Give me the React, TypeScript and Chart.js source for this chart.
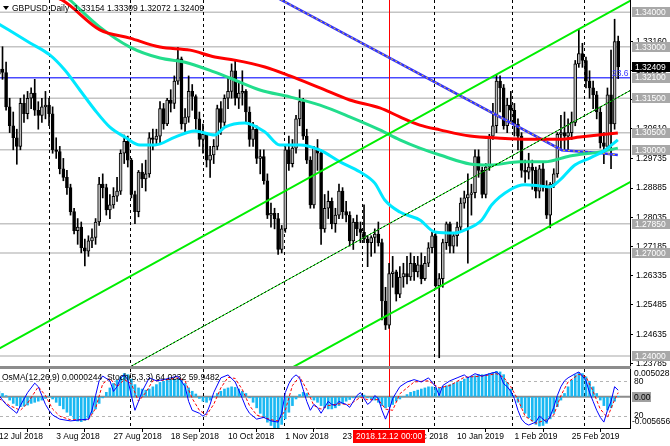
import React, { useEffect, useRef } from "react";
import { Chart, registerables } from "chart.js";
Chart.register(...registerables);

const FONT = "'Liberation Sans', Arial, sans-serif";
const TOP_H = 366;
const SEP_H = 3;
const BOT_H = 77;
const X_MIN = 0.3;
const X_MAX = 176.3;
const PRICE_MIN = 1.2371;
const PRICE_MAX = 1.34359;

const HEADER = "GBPUSD,Daily  1.33154 1.33309 1.32072 1.32409";
const OSC_HEADER = "OsMA(12,26,9) 0.0000244  Stoch(5,3,3) 64.0232 59.9482";

const OPEN = [
  1.3220, 1.3235, 1.3225, 1.3125, 1.3070, 1.3035, 1.3010, 1.3135, 1.3105, 1.3150,
  1.3165, 1.3115, 1.3100, 1.3125, 1.3130, 1.3105, 1.3000, 1.2995, 1.2945, 1.2920,
  1.2890, 1.2820, 1.2765, 1.2775, 1.2715, 1.2705, 1.2735, 1.2745, 1.2790, 1.2900,
  1.2890, 1.2825, 1.2840, 1.2865, 1.2880, 1.2990, 1.3025, 1.2970, 1.2870, 1.2820,
  1.2935, 1.2915, 1.2930, 1.3035, 1.3030, 1.3040, 1.3120, 1.3075, 1.3145, 1.3135,
  1.3200, 1.3265, 1.3075, 1.3095, 1.3170, 1.3155, 1.3090, 1.3030, 1.3045, 1.2970,
  1.2985, 1.3010, 1.3120, 1.3080, 1.3150, 1.3170, 1.3230, 1.3150, 1.3165, 1.3170,
  1.3110, 1.3030, 1.3060, 1.2975, 1.2980, 1.2910, 1.2810, 1.2815, 1.2800, 1.2710,
  1.2770, 1.3000, 1.2960, 1.3005, 1.3090, 1.3140, 1.3040, 1.2970, 1.2840, 1.3005,
  1.2990, 1.2770, 1.2830, 1.2850, 1.2785, 1.2810, 1.2880, 1.2820, 1.2810, 1.2735,
  1.2790, 1.2770, 1.2760, 1.2740, 1.2730, 1.2745, 1.2755, 1.2730, 1.2560, 1.2490,
  1.2640, 1.2645, 1.2580, 1.2630, 1.2640, 1.2630, 1.2670, 1.2645, 1.2665, 1.2625,
  1.2670, 1.2715, 1.2750, 1.2605, 1.2625, 1.2730, 1.2785, 1.2720, 1.2750, 1.2775,
  1.2845, 1.2860, 1.2870, 1.2875, 1.2980, 1.2940, 1.2870, 1.2950, 1.3040, 1.3070,
  1.3200, 1.3180, 1.3070, 1.3130, 1.3115, 1.3075, 1.3040, 1.2940, 1.2935, 1.2950,
  1.2940, 1.2880, 1.2945, 1.2895, 1.2810, 1.2900, 1.2930, 1.3045, 1.3050, 1.3040,
  1.3050, 1.3080, 1.3250, 1.3280, 1.3260, 1.3200, 1.3180, 1.3160, 1.3110, 1.3020,
  1.3010, 1.3160, 1.3075, 1.33154,
];
const HIGH = [
  1.3262, 1.3300, 1.3255, 1.3150, 1.3110, 1.3060, 1.3150, 1.3160, 1.3170, 1.3180,
  1.3205, 1.3140, 1.3150, 1.3170, 1.3150, 1.3125, 1.3035, 1.3010, 1.2975, 1.2940,
  1.2900, 1.2830, 1.2800, 1.2790, 1.2740, 1.2750, 1.2770, 1.2800, 1.2920, 1.2930,
  1.2900, 1.2870, 1.2890, 1.2920, 1.3000, 1.3043, 1.3040, 1.2975, 1.2880, 1.2940,
  1.2960, 1.2970, 1.3050, 1.3060, 1.3060, 1.3140, 1.3135, 1.3150, 1.3175, 1.3215,
  1.3298, 1.3270, 1.3120, 1.3215, 1.3190, 1.3160, 1.3110, 1.3075, 1.3050, 1.3010,
  1.3030, 1.3130, 1.3140, 1.3160, 1.3210, 1.3250, 1.3260, 1.3200, 1.3230, 1.3175,
  1.3125, 1.3080, 1.3070, 1.3000, 1.3000, 1.2930, 1.2845, 1.2830, 1.2815, 1.2780,
  1.3010, 1.3040, 1.3030, 1.3100, 1.3175, 1.3150, 1.3060, 1.2980, 1.3010, 1.3030,
  1.3000, 1.2870, 1.2880, 1.2860, 1.2830, 1.2900, 1.2890, 1.2850, 1.2820, 1.2800,
  1.2810, 1.2790, 1.2840, 1.2750, 1.2750, 1.2770, 1.2790, 1.2740, 1.2600, 1.2670,
  1.2690, 1.2650, 1.2660, 1.2670, 1.2690, 1.2700, 1.2690, 1.2690, 1.2700, 1.2690,
  1.2730, 1.2760, 1.2760, 1.2640, 1.2740, 1.2790, 1.2790, 1.2760, 1.2790, 1.2860,
  1.2880, 1.2930, 1.2900, 1.3000, 1.3000, 1.2950, 1.2960, 1.3045, 1.3135, 1.3218,
  1.3215, 1.3190, 1.3150, 1.3170, 1.3135, 1.3090, 1.3050, 1.2970, 1.2990, 1.2970,
  1.2950, 1.2955, 1.2965, 1.2910, 1.2905, 1.2945, 1.3050, 1.3100, 1.3110, 1.3090,
  1.3110, 1.3260, 1.3350, 1.3310, 1.3270, 1.3230, 1.3200, 1.3170, 1.3125, 1.3050,
  1.3180, 1.3290, 1.3380, 1.33309,
];
const LOW = [
  1.3190, 1.3205, 1.3115, 1.3050, 1.3000, 1.2958, 1.3000, 1.3080, 1.3090, 1.3120,
  1.3100, 1.3060, 1.3080, 1.3090, 1.3070, 1.2990, 1.2975, 1.2930, 1.2910, 1.2870,
  1.2810, 1.2755, 1.2725, 1.2700, 1.2662, 1.2690, 1.2715, 1.2725, 1.2780, 1.2860,
  1.2810, 1.2800, 1.2830, 1.2850, 1.2870, 1.2960, 1.2950, 1.2860, 1.2785, 1.2805,
  1.2890, 1.2880, 1.2920, 1.3000, 1.3015, 1.3020, 1.3060, 1.3070, 1.3110, 1.3120,
  1.3190, 1.3060, 1.3050, 1.3080, 1.3115, 1.3060, 1.3010, 1.2990, 1.2950, 1.2920,
  1.2960, 1.3000, 1.3045, 1.3070, 1.3120, 1.3150, 1.3130, 1.3120, 1.3130, 1.3080,
  1.3010, 1.3010, 1.2960, 1.2930, 1.2900, 1.2800, 1.2775, 1.2770, 1.2696, 1.2700,
  1.2760, 1.2940, 1.2950, 1.2990, 1.3070, 1.3030, 1.2960, 1.2830, 1.2830, 1.2940,
  1.2725, 1.2760, 1.2800, 1.2770, 1.2760, 1.2800, 1.2800, 1.2790, 1.2720, 1.2710,
  1.2750, 1.2730, 1.2730, 1.2660, 1.2690, 1.2700, 1.2720, 1.2505, 1.2477, 1.2480,
  1.2600, 1.2560, 1.2570, 1.2600, 1.2610, 1.2620, 1.2620, 1.2630, 1.2610, 1.2620,
  1.2660, 1.2700, 1.2600, 1.2395, 1.2600, 1.2710, 1.2700, 1.2700, 1.2720, 1.2765,
  1.2830, 1.2670, 1.2810, 1.2860, 1.2920, 1.2860, 1.2860, 1.2940, 1.3030, 1.3050,
  1.3110, 1.3060, 1.3050, 1.3080, 1.3040, 1.3000, 1.2920, 1.2905, 1.2915, 1.2885,
  1.2860, 1.2860, 1.2880, 1.2800, 1.2773, 1.2890, 1.2920, 1.3000, 1.3000, 1.3000,
  1.3030, 1.3070, 1.3240, 1.3240, 1.3180, 1.3150, 1.3120, 1.3090, 1.3005, 1.2960,
  1.3000, 1.2945, 1.3060, 1.32072,
];
const CLOSE = [
  1.3235, 1.3225, 1.3125, 1.3070, 1.3035, 1.3010, 1.3135, 1.3105, 1.3150, 1.3165,
  1.3115, 1.3100, 1.3125, 1.3130, 1.3105, 1.3000, 1.2995, 1.2945, 1.2920, 1.2890,
  1.2820, 1.2765, 1.2775, 1.2715, 1.2705, 1.2735, 1.2745, 1.2790, 1.2900, 1.2890,
  1.2825, 1.2840, 1.2865, 1.2880, 1.2990, 1.3025, 1.2970, 1.2870, 1.2820, 1.2935,
  1.2915, 1.2930, 1.3035, 1.3030, 1.3040, 1.3120, 1.3075, 1.3145, 1.3135, 1.3200,
  1.3265, 1.3075, 1.3095, 1.3170, 1.3155, 1.3090, 1.3030, 1.3045, 1.2970, 1.2985,
  1.3010, 1.3120, 1.3080, 1.3150, 1.3170, 1.3230, 1.3150, 1.3165, 1.3170, 1.3110,
  1.3030, 1.3060, 1.2975, 1.2980, 1.2910, 1.2810, 1.2815, 1.2800, 1.2710, 1.2770,
  1.3000, 1.2960, 1.3005, 1.3090, 1.3140, 1.3040, 1.2970, 1.2840, 1.3005, 1.2990,
  1.2770, 1.2830, 1.2850, 1.2785, 1.2810, 1.2880, 1.2820, 1.2810, 1.2735, 1.2790,
  1.2770, 1.2760, 1.2740, 1.2730, 1.2745, 1.2755, 1.2730, 1.2560, 1.2490, 1.2640,
  1.2645, 1.2580, 1.2630, 1.2640, 1.2630, 1.2670, 1.2645, 1.2665, 1.2625, 1.2670,
  1.2715, 1.2750, 1.2605, 1.2625, 1.2730, 1.2785, 1.2720, 1.2750, 1.2775, 1.2845,
  1.2860, 1.2870, 1.2875, 1.2980, 1.2940, 1.2870, 1.2950, 1.3040, 1.3070, 1.3200,
  1.3180, 1.3070, 1.3130, 1.3115, 1.3075, 1.3040, 1.2940, 1.2935, 1.2950, 1.2940,
  1.2880, 1.2945, 1.2895, 1.2810, 1.2900, 1.2930, 1.3045, 1.3050, 1.3040, 1.3050,
  1.3080, 1.3250, 1.3280, 1.3260, 1.3200, 1.3180, 1.3160, 1.3110, 1.3020, 1.3010,
  1.3160, 1.3075, 1.3315, 1.32409,
];

// Moving averages / lines as [bar index, price] key points
const MA_RED = [[10, 1.3460], [17.6, 1.3436], [28.2, 1.3349], [36.6, 1.3325], [45, 1.3299], [53.4, 1.3290], [60.3, 1.3270], [65.9, 1.3261], [74.3, 1.3241], [81.3, 1.3215], [89.7, 1.3180], [98, 1.3145], [106.4, 1.3122], [112, 1.3096], [117.6, 1.3072], [123.2, 1.3058], [131.6, 1.3040], [140, 1.3034], [148.3, 1.3031], [156.7, 1.3031], [162.3, 1.3037], [172.9, 1.3049]];
const MA_TEAL = [[15, 1.3480], [19.8, 1.3436], [28.2, 1.3357], [36.6, 1.3299], [45, 1.3267], [52, 1.3255], [60.3, 1.3226], [64.5, 1.3209], [72.9, 1.3174], [81.3, 1.3154], [89.7, 1.3130], [98, 1.3096], [106.4, 1.3058], [112, 1.3029], [117.6, 1.3005], [123.2, 1.2985], [131.6, 1.2959], [137.2, 1.2956], [145.5, 1.2965], [152.5, 1.2965], [159.5, 1.2982], [167.9, 1.2994], [172.9, 1.3005]];
const MA_CYAN = [[0, 1.3366], [8.7, 1.3311], [14.2, 1.3276], [18.4, 1.3232], [22.6, 1.3174], [26.8, 1.3116], [31, 1.3066], [35.2, 1.3037], [39.4, 1.3014], [43.6, 1.3014], [49.2, 1.3037], [54.7, 1.3055], [60.3, 1.3043], [63.1, 1.3066], [68.7, 1.3078], [74.3, 1.3052], [78.5, 1.3014], [84.1, 1.3014], [89.7, 1.2999], [95.3, 1.2965], [100.8, 1.2936], [105, 1.2903], [107.8, 1.2854], [112, 1.2819], [117.6, 1.2796], [121.8, 1.2761], [127.4, 1.2758], [130.2, 1.2767], [134.9, 1.2796], [137.7, 1.2840], [142.7, 1.2883], [146.9, 1.2898], [151.1, 1.2895], [153.9, 1.2892], [156.7, 1.2912], [160.9, 1.2956], [165.1, 1.2976], [169.3, 1.2999], [172.9, 1.3029]];
const MA_LONG = [[70.1, 1.3485], [157.3, 1.2999], [167.9, 1.2991], [172.9, 1.2985]];
const CH_UPPER = [[-2, 1.2410], [178, 1.3443]];
const CH_MIDDLE = [[36, 1.2365], [178, 1.3182]];
const CH_LOWER = [[82, 1.2367], [178, 1.2916]];

const PRICE_TICKS = [1.3316, 1.3231, 1.3146, 1.3061, 1.29735, 1.28885, 1.28035, 1.27185, 1.26335, 1.25485, 1.24635, 1.23785];
const LEVELS = [1.34, 1.33, 1.315, 1.305, 1.3, 1.2785, 1.27, 1.24];
const LEVEL_LABELS = ["1.34000", "1.33000", "1.31500", "1.30500", "1.30000", "1.27850", "1.27000", "1.24000"];
const FIB_LEVEL = 1.321;
const FIB_LABEL = "1.32100";
const FIB_TEXT = "23.6";
const LAST_PRICE = 1.32409;
const LAST_LABEL = "1.32409";

const GRID_IDX = [13.99, 36.62, 57.01, 79.64, 101.43, 121.55, 143.34, 163.45];
const MARK_IDX = 109;
const MARK_TEXT = "2018.12.12 00:00";
const DATE_IDX = [0, 16, 32, 48, 64, 80, 96, 112, 128, 144, 160];
const DATE_LABELS = ["12 Jul 2018", "3 Aug 2018", "27 Aug 2018", "18 Sep 2018", "10 Oct 2018", "1 Nov 2018", "23 Nov 2018", "17 Dec 2018", "10 Jan 2019", "1 Feb 2019", "25 Feb 2019"];

const OSMA = [
  0.0010, 0.0006, 0.0002, -0.0006, -0.0012, -0.0016, -0.0018, -0.0017, -0.0015, -0.0012,
  -0.0010, -0.0008, -0.0006, -0.0003, 0.0001, -0.0004, -0.0010, -0.0016, -0.0022, -0.0028,
  -0.0034, -0.0040, -0.0044, -0.0045, -0.0043, -0.0038, -0.0030, -0.0022, -0.0012, -0.0002,
  0.0008, 0.0016, 0.0024, 0.0030, 0.0036, 0.0042, 0.0040, 0.0032, 0.0022, 0.0016,
  0.0014, 0.0012, 0.0014, 0.0018, 0.0022, 0.0026, 0.0028, 0.0030, 0.0031, 0.0032,
  0.0034, 0.0030, 0.0024, 0.0016, 0.0010, 0.0005, -0.0003, -0.0008, -0.0010, -0.0006,
  0.0000, 0.0006, 0.0010, 0.0014, 0.0016, 0.0018, 0.0017, 0.0014, 0.0010, 0.0006,
  -0.0002, -0.0010, -0.0020, -0.0030, -0.0038, -0.0046, -0.0052, -0.0056, -0.0056, -0.0050,
  -0.0040, -0.0028, -0.0016, -0.0004, 0.0004, 0.0008, 0.0006, 0.0000, -0.0006, -0.0010,
  -0.0016, -0.0020, -0.0022, -0.0022, -0.0020, -0.0016, -0.0012, -0.0008, -0.0005, -0.0002,
  0.0000, 0.0002, 0.0003, -0.0002, -0.0004, -0.0006, -0.0010, -0.0016, -0.0020, -0.0018,
  -0.0014, -0.0008, -0.0004, 0.0000, 0.0004, 0.0008, 0.0010, 0.0012, 0.0014, 0.0016,
  0.0018, 0.0018, 0.0016, 0.0016, 0.0018, 0.0020, 0.0022, 0.0024, 0.0026, 0.0028,
  0.0032, 0.0034, 0.0036, 0.0038, 0.0040, 0.0040, 0.0040, 0.0042, 0.0044, 0.0046,
  0.0045, 0.0040, 0.0026, 0.0014, 0.0002, -0.0010, -0.0020, -0.0030, -0.0038, -0.0044,
  -0.0050, -0.0053, -0.0052, -0.0048, -0.0040, -0.0030, -0.0018, -0.0006, 0.0006, 0.0018,
  0.0030, 0.0040, 0.0044, 0.0042, 0.0036, 0.0028, 0.0018, 0.0006, -0.0006, -0.0016,
  -0.0024, -0.0020, -0.0008, 0.0000244,
];
const STOCH_MAIN = [[0, 55], [2, 40], [4, 30], [5, 25], [6, 38], [8, 60], [10, 76], [11, 70], [12, 55], [13, 40], [14, 30], [15, 22], [17, 15], [20, 12], [23, 14], [25, 15], [26, 30], [27, 55], [28, 80], [29, 88], [31, 80], [32, 62], [33, 70], [34, 85], [35, 90], [36, 82], [37, 55], [38, 30], [39, 45], [40, 62], [42, 85], [44, 80], [46, 82], [48, 85], [50, 88], [52, 70], [53, 45], [54, 30], [56, 25], [57, 20], [58, 25], [59, 40], [60, 60], [62, 85], [64, 90], [66, 78], [68, 50], [69, 35], [70, 25], [72, 15], [74, 18], [76, 12], [78, 10], [79, 25], [80, 60], [81, 75], [82, 85], [83, 90], [84, 85], [85, 65], [86, 45], [87, 30], [88, 40], [89, 35], [90, 25], [91, 35], [92, 45], [93, 40], [94, 38], [95, 45], [96, 42], [97, 40], [98, 35], [99, 45], [100, 55], [101, 60], [102, 50], [103, 40], [104, 45], [105, 55], [106, 50], [107, 30], [108, 15], [109, 30], [110, 50], [111, 60], [112, 70], [114, 78], [116, 82], [118, 78], [120, 85], [122, 70], [123, 55], [124, 72], [126, 80], [128, 85], [130, 90], [131, 85], [133, 92], [135, 88], [137, 92], [139, 95], [140, 90], [141, 75], [142, 70], [143, 62], [144, 50], [145, 30], [146, 15], [147, 8], [148, 5], [150, 10], [151, 20], [152, 15], [153, 10], [154, 20], [155, 35], [156, 55], [157, 70], [158, 80], [159, 85], [161, 92], [162, 95], [163, 88], [164, 80], [165, 60], [166, 45], [167, 30], [168, 18], [169, 10], [170, 30], [171, 45], [172, 70], [173, 64.0232]];
const STOCH_SIGNAL = [[0, 50], [3, 38], [6, 30], [8, 42], [11, 70], [13, 55], [15, 32], [17, 20], [20, 14], [25, 14], [27, 33], [29, 75], [31, 84], [33, 70], [35, 82], [37, 75], [39, 45], [41, 60], [43, 80], [46, 81], [50, 85], [52, 80], [54, 50], [56, 30], [58, 22], [60, 40], [62, 68], [64, 86], [66, 84], [68, 65], [70, 38], [72, 22], [76, 14], [78, 12], [80, 30], [82, 72], [84, 87], [86, 65], [88, 38], [90, 32], [92, 38], [95, 41], [98, 40], [101, 52], [103, 48], [106, 48], [108, 32], [110, 30], [112, 58], [116, 78], [120, 80], [123, 68], [126, 72], [130, 86], [135, 88], [139, 92], [141, 86], [143, 70], [145, 48], [147, 20], [150, 8], [153, 14], [155, 22], [157, 55], [159, 78], [162, 91], [164, 87], [166, 62], [168, 32], [170, 18], [172, 48], [173, 59.9482]];
const OSMA_MAX = 0.0050285;
const OSMA_MIN = -0.005656;
const OSC_LABEL_TOP = "0.0050285";
const OSC_LABEL_BOTTOM = "-0.005656";
const OSC_LABEL_ZERO = "0.00";
const STOCH_LEVELS = [80, 20];

const pts = (arr: number[][]) => arr.map(([x, y]) => ({ x, y }));

function lineDs(arr: number[][], color: string, width: number, extra: any = {}) {
  return {
    type: "line",
    data: pts(arr),
    borderColor: color,
    borderWidth: width,
    pointRadius: 0,
    fill: false,
    order: 1,
    ...extra,
  };
}

function font(size = 8.5) {
  return `${size}px ${FONT}`;
}

function drawBox(ctx: CanvasRenderingContext2D, y: number, text: string, bg: string, fg: string, w = 38) {
  ctx.fillStyle = bg;
  ctx.fillRect(632, Math.round(y - 5), w, 10);
  ctx.fillStyle = fg;
  ctx.font = font();
  ctx.textAlign = "left";
  ctx.textBaseline = "middle";
  ctx.fillText(text, 635, y + 0.5);
}

function drawGridAndMark(chart: any) {
  const { ctx, chartArea: a, scales } = chart;
  const x = scales.x;
  ctx.save();
  ctx.strokeStyle = "#000";
  ctx.lineWidth = 1;
  ctx.setLineDash([3, 3]);
  GRID_IDX.forEach((i) => {
    const px = Math.round(x.getPixelForValue(i)) + 0.5;
    ctx.beginPath();
    ctx.moveTo(px, a.top);
    ctx.lineTo(px, a.bottom);
    ctx.stroke();
  });
  ctx.setLineDash([]);
  ctx.strokeStyle = "#ff0000";
  const mx = Math.round(x.getPixelForValue(MARK_IDX)) + 0.5;
  ctx.beginPath();
  ctx.moveTo(mx, a.top);
  ctx.lineTo(mx, a.bottom);
  ctx.stroke();
  ctx.restore();
}

const topPlugin = {
  id: "topDecor",
  beforeDatasetsDraw(chart: any) {
    const { ctx, chartArea: a, scales } = chart;
    const y = scales.y;
    ctx.save();
    ctx.strokeStyle = "#c4c4c4";
    ctx.lineWidth = 1.5;
    LEVELS.forEach((v) => {
      const py = y.getPixelForValue(v);
      ctx.beginPath();
      ctx.moveTo(a.left, py);
      ctx.lineTo(a.right, py);
      ctx.stroke();
    });
    ctx.strokeStyle = "#4a4aff";
    ctx.lineWidth = 1.5;
    const fy = y.getPixelForValue(FIB_LEVEL);
    ctx.beginPath();
    ctx.moveTo(a.left, fy);
    ctx.lineTo(a.right, fy);
    ctx.stroke();
    ctx.restore();
    drawGridAndMark(chart);
  },
  afterDraw(chart: any) {
    const { ctx, scales } = chart;
    const y = scales.y;
    ctx.save();
    // header
    ctx.fillStyle = "#000";
    ctx.beginPath();
    ctx.moveTo(3, 6);
    ctx.lineTo(9, 6);
    ctx.lineTo(6, 10);
    ctx.closePath();
    ctx.fill();
    ctx.font = font();
    ctx.textAlign = "left";
    ctx.textBaseline = "alphabetic";
    ctx.fillText(HEADER, 12, 11);
    // fib text
    ctx.fillStyle = "#3a3aff";
    ctx.fillText(FIB_TEXT, 612, y.getPixelForValue(FIB_LEVEL) - 2);
    // level boxes
    LEVELS.forEach((v, k) => drawBox(ctx, y.getPixelForValue(v), LEVEL_LABELS[k], "#a8a8a8", "#fff"));
    drawBox(ctx, y.getPixelForValue(FIB_LEVEL), FIB_LABEL, "#a8a8a8", "#fff");
    drawBox(ctx, y.getPixelForValue(LAST_PRICE), LAST_LABEL, "#000", "#fff");
    ctx.restore();
  },
};

const botPlugin = {
  id: "botDecor",
  beforeDatasetsDraw(chart: any) {
    const { ctx, chartArea: a, scales } = chart;
    ctx.save();
    ctx.strokeStyle = "#b4b4b4";
    ctx.lineWidth = 1;
    ctx.setLineDash([3, 3]);
    STOCH_LEVELS.forEach((v) => {
      const py = Math.round(scales.ys.getPixelForValue(v)) + 0.5;
      ctx.beginPath();
      ctx.moveTo(a.left, py);
      ctx.lineTo(a.right, py);
      ctx.stroke();
    });
    ctx.setLineDash([]);
    ctx.strokeStyle = "#8c8c8c";
    ctx.lineWidth = 2;
    const zy = scales.yo.getPixelForValue(0);
    ctx.beginPath();
    ctx.moveTo(a.left, zy);
    ctx.lineTo(a.right, zy);
    ctx.stroke();
    ctx.restore();
    drawGridAndMark(chart);
  },
  afterDraw(chart: any) {
    const { ctx, chartArea: a, scales } = chart;
    ctx.save();
    ctx.fillStyle = "#000";
    ctx.font = font();
    ctx.textAlign = "left";
    ctx.textBaseline = "alphabetic";
    ctx.fillText(OSC_HEADER, 2, 11);
    ctx.textBaseline = "middle";
    ctx.fillText(OSC_LABEL_TOP, 634, a.top + 5);
    ctx.fillText(String(STOCH_LEVELS[0]), 634, scales.ys.getPixelForValue(STOCH_LEVELS[0]) + 1);
    ctx.fillText(String(STOCH_LEVELS[1]), 634, scales.ys.getPixelForValue(STOCH_LEVELS[1]) - 1);
    ctx.fillText(OSC_LABEL_BOTTOM, 632, a.bottom - 6);
    const zy = scales.yo.getPixelForValue(0);
    ctx.fillStyle = "#a0a0a0";
    ctx.fillRect(632, Math.round(zy - 5), 19, 10);
    ctx.fillStyle = "#000";
    ctx.fillText(OSC_LABEL_ZERO, 634, zy + 0.5);
    // date marker box
    const mx = scales.x.getPixelForValue(MARK_IDX);
    ctx.fillStyle = "#ff0000";
    ctx.fillRect(Math.round(mx - 36), a.bottom + 2, 72, 13);
    ctx.fillStyle = "#fff";
    ctx.textAlign = "center";
    ctx.fillText(MARK_TEXT, mx, a.bottom + 9);
    ctx.restore();
  },
};

const xCommon = {
  type: "linear",
  min: X_MIN,
  max: X_MAX,
  offset: false,
};

export default function App() {
  const topRef = useRef<HTMLCanvasElement>(null);
  const botRef = useRef<HTMLCanvasElement>(null);

  useEffect(() => {
    document.body.style.margin = "0";
    const idx = CLOSE.map((_, i) => i);
    const wickData = idx.map((i) => ({ x: i, y: [LOW[i], HIGH[i]] }));
    const bodyData = idx.map((i) => ({ x: i, y: [OPEN[i], CLOSE[i]] }));
    const bodyColors = idx.map((i) => (CLOSE[i] >= OPEN[i] ? "#b8b8b8" : "#000000"));

    const top = new Chart(topRef.current as HTMLCanvasElement, {
      type: "bar",
      data: {
        datasets: [
          { type: "bar", data: wickData, backgroundColor: "#000", barThickness: 1, grouped: false, order: 10 } as any,
          {
            type: "bar",
            data: bodyData,
            backgroundColor: bodyColors,
            borderColor: "#000",
            borderWidth: 1,
            borderSkipped: false,
            barThickness: 3,
            grouped: false,
            order: 9,
          } as any,
          lineDs(MA_LONG, "#3030ff", 2.5, { order: 5 }),
          lineDs(MA_LONG, "#ffd400", 1, { order: 4, borderDash: [2, 3] }),
          lineDs(MA_TEAL, "#22dd8c", 3, { order: 3, cubicInterpolationMode: "monotone" }),
          lineDs(MA_RED, "#ff0000", 3, { order: 2, cubicInterpolationMode: "monotone" }),
          lineDs(MA_CYAN, "#00e8ff", 3, { order: 2, cubicInterpolationMode: "monotone" }),
          lineDs(CH_UPPER, "#00ee00", 2, { order: 1 }),
          lineDs(CH_LOWER, "#00ee00", 2, { order: 1 }),
          lineDs(CH_MIDDLE, "#00ee00", 1, { order: 1 }),
          lineDs(CH_MIDDLE, "#000000", 1, { order: 0, borderDash: [2, 2] }),
        ] as any,
      },
      options: {
        responsive: false,
        animation: false,
        events: [],
        layout: { padding: 0 },
        plugins: { legend: { display: false }, tooltip: { enabled: false } },
        scales: {
          x: { ...xCommon, display: false } as any,
          y: {
            type: "linear",
            position: "right",
            min: PRICE_MIN,
            max: PRICE_MAX,
            afterBuildTicks: (s: any) => {
              s.ticks = PRICE_TICKS.map((v) => ({ value: v }));
            },
            afterFit: (s: any) => {
              s.width = 40;
              s.paddingTop = 0;
              s.paddingBottom = 0;
            },
            ticks: {
              autoSkip: false,
              padding: 3,
              color: "#000",
              font: { family: FONT, size: 8.5 },
              callback: (v: any) => Number(v).toFixed(5),
            },
            grid: { drawOnChartArea: false, drawTicks: true, tickLength: 3, color: "#000" },
            border: { display: true, color: "#000" },
          } as any,
        },
      },
      plugins: [topPlugin],
    } as any);

    const bot = new Chart(botRef.current as HTMLCanvasElement, {
      type: "bar",
      data: {
        datasets: [
          {
            type: "bar",
            data: OSMA.map((v, i) => ({ x: i, y: v })),
            backgroundColor: "#1ab8f2",
            barThickness: 2,
            grouped: false,
            yAxisID: "yo",
            order: 5,
          } as any,
          lineDs(STOCH_SIGNAL, "#ff0000", 1, { yAxisID: "ys", borderDash: [3, 2], order: 2 }),
          lineDs(STOCH_MAIN, "#0000ff", 1, { yAxisID: "ys", order: 1 }),
        ] as any,
      },
      options: {
        responsive: false,
        animation: false,
        events: [],
        layout: { padding: 0 },
        plugins: { legend: { display: false }, tooltip: { enabled: false } },
        scales: {
          x: {
            ...xCommon,
            position: "bottom",
            afterBuildTicks: (s: any) => {
              s.ticks = DATE_IDX.map((v) => ({ value: v }));
            },
            afterFit: (s: any) => {
              s.height = 18;
              s.paddingLeft = 0;
              s.paddingRight = 0;
            },
            ticks: {
              autoSkip: false,
              maxRotation: 0,
              minRotation: 0,
              align: "start",
              padding: 0,
              color: "#000",
              font: { family: FONT, size: 8.5 },
              callback: (_v: any, k: number) => DATE_LABELS[k],
            },
            grid: { drawOnChartArea: false, drawTicks: true, tickLength: 4, color: "#000" },
            border: { display: true, color: "#000" },
          } as any,
          yo: {
            type: "linear",
            position: "right",
            min: OSMA_MIN,
            max: OSMA_MAX,
            afterFit: (s: any) => {
              s.width = 40;
              s.paddingTop = 0;
              s.paddingBottom = 0;
            },
            ticks: { display: false },
            grid: { drawOnChartArea: false, drawTicks: false },
            border: { display: true, color: "#000" },
          } as any,
          ys: { type: "linear", position: "right", min: 0, max: 100, display: false } as any,
        },
      },
      plugins: [botPlugin],
    } as any);

    return () => {
      top.destroy();
      bot.destroy();
    };
  }, []);

  return (
    <div style={{ position: "absolute", left: 0, top: 0, width: 670, height: 446, background: "#fff", overflow: "hidden" }}>
      <canvas ref={topRef} width={670} height={TOP_H} style={{ position: "absolute", left: 0, top: 0 }} />
      <div style={{ position: "absolute", left: 0, top: TOP_H, width: 631, height: SEP_H, background: "#8c8c8c" }} />
      <canvas ref={botRef} width={670} height={BOT_H} style={{ position: "absolute", left: 0, top: TOP_H + SEP_H }} />
    </div>
  );
}
